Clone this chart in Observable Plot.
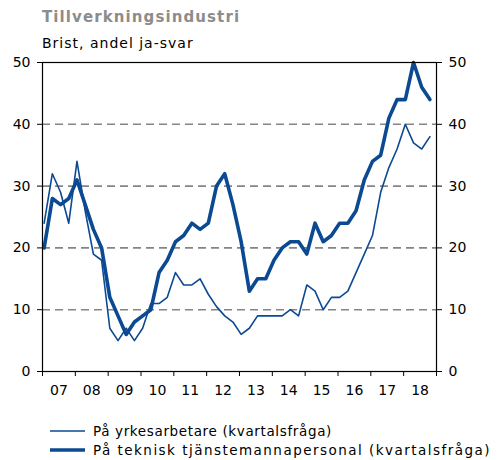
<!DOCTYPE html>
<html>
<head>
<meta charset="utf-8">
<script src="https://cdn.jsdelivr.net/npm/d3@7"></script>
<script src="https://cdn.jsdelivr.net/npm/@observablehq/plot@0.6"></script>
<style>
  body { margin: 0; background: #fff; font-family: "DejaVu Sans", Verdana, sans-serif; }
  #wrap { width: 500px; height: 460px; position: relative; overflow: hidden; }
  .title { position: absolute; left: 42px; top: 8px; font-size: 15px; font-weight: bold; color: #8c8c8c; letter-spacing: 1.1px; white-space: nowrap; }
  .subtitle { position: absolute; left: 42px; top: 35px; font-size: 14px; color: #000; letter-spacing: 1px; white-space: nowrap; }
  #chart { position: absolute; left: 0; top: 54px; }
  .legend { position: absolute; left: 50px; width: 450px; font-size: 13.5px; color: #000; display: flex; align-items: center; white-space: nowrap; }
  .legend svg { margin-right: 8px; flex: none; }
  .legend span { display: inline-block; }
</style>
</head>
<body>
<div id="wrap">
  <div class="title">Tillverkningsindustri</div>
  <div class="subtitle">Brist, andel ja-svar</div>
  <div id="chart"></div>
  <div class="legend" style="top:423px"><svg width="35" height="16"><line x1="0" x2="35" y1="8" y2="8" stroke="#0b4a92" stroke-width="1.5"/></svg><span id="leg1" data-w="239"></span></div>
  <div class="legend" style="top:442px"><svg width="35" height="16"><line x1="0" x2="35" y1="8" y2="8" stroke="#0b4a92" stroke-width="3.5"/></svg><span id="leg2" data-w="398"></span></div>
</div>
<script>
const startYear = 2007;
const yrkesarbetare = [24, 32, 29, 24, 34, 26, 19, 18,
  7, 5, 7, 5, 7, 11, 11, 12,
  16, 14, 14, 15, 12.5, 10.5, 9, 8,
  6, 7, 9, 9, 9, 9, 10, 9,
  14, 13, 10, 12, 12, 13, 16, 19,
  22, 29, 33, 36, 40, 37, 36, 38];
const tjanstemän = [20, 28, 27, 28, 31, 27, 23, 20,
  12, 9, 6, 8, 9, 10, 16, 18,
  21, 22, 24, 23, 24, 30, 32, 27,
  21, 13, 15, 15, 18, 20, 21, 21,
  19, 24, 21, 22, 24, 24, 26, 31,
  34, 35, 41, 44, 44, 50, 46, 44];
const yearTicks = d3.range(2007, 2020);
const yearLabelPos = d3.range(2007, 2019).map(y => y + 0.5);
const yTicks = [0, 10, 20, 30, 40, 50];
const gridValues = [10, 20, 30, 40];
const seriesNames = ["På yrkesarbetare (kvartalsfråga)", "På teknisk tjänstemannapersonal (kvartalsfråga)"];

// legend text, spaced to the reference widths
[["leg1", seriesNames[0]], ["leg2", seriesNames[1]]].forEach(([id, txt]) => {
  const el = document.getElementById(id);
  el.textContent = txt;
  const natural = el.getBoundingClientRect().width;
  const target = +el.dataset.w;
  const ls = Math.max(0, (target - natural) / txt.length);
  el.style.letterSpacing = ls + "px";
});

const rows = [];
yrkesarbetare.forEach((v, i) => rows.push({x: startYear + (i + 0.2) / 4, y: v, s: seriesNames[0]}));
tjanstemän.forEach((v, i) => rows.push({x: startYear + (i + 0.2) / 4, y: v, s: seriesNames[1]}));

const color = "#0b4a92";
const chart = Plot.plot({
  width: 500,
  height: 360,
  marginLeft: 42,
  marginRight: 64,
  marginTop: 8,
  marginBottom: 43,
  style: {fontFamily: "DejaVu Sans, Verdana, sans-serif", fontSize: "14px", color: "#000", background: "#fff"},
  x: {domain: [2007, 2019]},
  y: {domain: [0, 50]},
  marks: [
    Plot.ruleY(gridValues, {stroke: "#858585", strokeWidth: 1.6, strokeDasharray: "8,5"}),
    Plot.line(rows.filter(d => d.s === seriesNames[0]), {x: "x", y: "y", stroke: color, strokeWidth: 1.6}),
    Plot.line(rows.filter(d => d.s === seriesNames[1]), {x: "x", y: "y", stroke: color, strokeWidth: 3.6}),
    Plot.frame({stroke: "#000", strokeWidth: 1.2}),
    Plot.axisY({anchor: "left", ticks: yTicks, tickSize: 5, tickPadding: 7, label: null, fontSize: 14, stroke: "#000"}),
    Plot.axisY({anchor: "right", ticks: yTicks, tickSize: 5, tickPadding: 7, label: null, fontSize: 14, stroke: "#000"}),
    Plot.axisX({ticks: yearTicks, tickSize: 5, tickFormat: () => "", label: null, stroke: "#000"}),
    Plot.axisX({ticks: yearLabelPos, tickSize: 0, tickPadding: 14, tickFormat: d => String(Math.floor(d) % 100).padStart(2, "0"), label: null, fontSize: 14, letterSpacing: 1})
  ]
});
document.getElementById("chart").appendChild(chart);
</script>
</body>
</html>
